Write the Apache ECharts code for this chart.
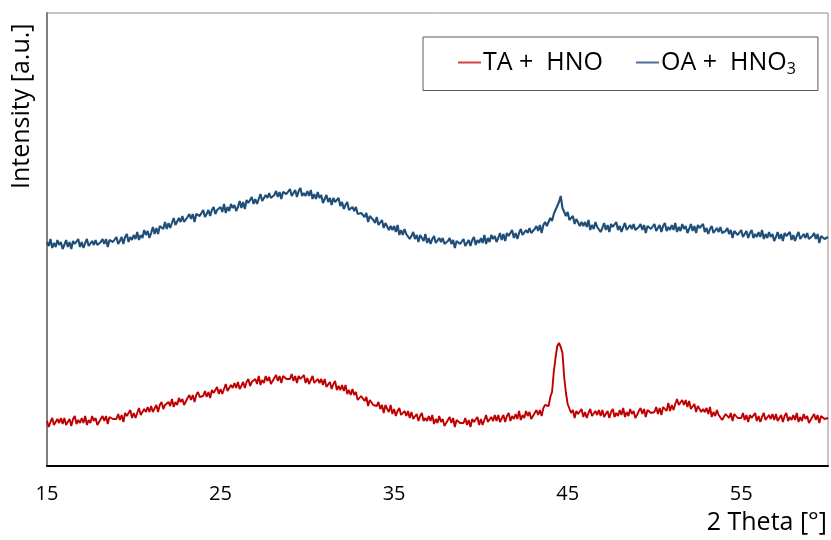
<!DOCTYPE html>
<html>
<head>
<meta charset="utf-8">
<script src="https://cdn.jsdelivr.net/npm/echarts@6/dist/echarts.min.js"></script>
<style>
  html, body { margin: 0; padding: 0; background: #ffffff; }
  #chart { width: 831px; height: 540px; }
</style>
</head>
<body>
<div id="chart"></div>
<script>
// XRD patterns, 2θ from 15° to 60° in 0.1° steps (intensity in arbitrary units)
const thetaStart = 15;
const thetaStep = 0.1;

const seriesNames = ['TA +  HNO', 'OA +  HNO3'];
const xTickLabels = ['15', '25', '35', '45', '55'];

// TA + HNO (red)
const taHno = [
  45,39,44,48,41,40,47,43,48,42,   // 15
  48,41,43,47,40,47,50,42,46,43,   // 16
  48,43,50,41,46,43,50,45,48,41,   // 17
  43,47,50,45,50,42,49,51,47,45,   // 18
  47,52,46,51,44,53,50,48,56,48,   // 19
  53,48,53,58,51,51,57,54,59,54,   // 20
  60,54,56,61,54,61,64,57,61,59,   // 21
  64,60,67,59,64,61,68,64,67,61,   // 22
  63,68,71,66,71,64,71,74,69,68,   // 23
  70,75,69,74,68,76,73,72,79,72,   // 24
  77,72,77,82,75,75,81,78,83,78,   // 25
  84,77,80,84,78,84,87,80,84,82,   // 26
  87,82,90,81,86,83,90,85,89,82,   // 27
  84,88,91,85,90,83,90,92,87,85,   // 28
  87,92,85,90,83,90,87,85,91,83,   // 29
  88,82,86,90,83,81,87,83,87,81,   // 30
  87,79,81,84,77,82,85,76,80,76,   // 31
  81,75,81,72,76,71,77,71,74,66,   // 32
  67,70,72,65,69,60,66,67,61,59,   // 33
  60,64,57,61,53,61,57,54,61,52,   // 34
  57,50,55,58,51,49,55,50,55,48,   // 35
  54,47,48,52,45,50,53,45,48,45,   // 36
  50,45,51,42,47,43,50,44,47,40,   // 37
  42,46,49,43,48,39,46,48,43,41,   // 38
  43,48,41,46,39,47,44,42,49,41,   // 39
  47,41,46,51,44,43,49,45,51,45,   // 40
  51,44,46,51,44,50,53,45,50,47,   // 41
  52,47,55,46,51,48,55,50,54,47,   // 42
  49,53,56,51,56,50,58,61,59,60,   // 43
  69,74,94,108,120,123,119,113,89,73, // 44
  62,62,53,56,48,55,52,50,57,49,   // 45
  54,48,53,57,50,49,55,51,56,50,   // 46
  56,49,51,55,48,54,57,49,53,50,   // 47
  56,51,58,49,54,50,57,52,55,48,   // 48
  51,55,58,52,57,49,56,58,53,51,   // 49
  54,59,52,58,51,59,57,55,63,55,   // 50
  61,56,62,67,61,60,66,61,66,59,   // 51
  65,57,59,62,54,60,62,54,57,54,   // 52
  58,52,59,49,54,50,56,51,53,46,   // 53
  48,52,54,48,53,45,52,53,48,46,   // 54
  48,53,46,51,44,51,48,46,53,45,   // 55
  50,44,49,53,46,45,51,47,52,46,   // 56
  52,45,47,51,44,50,53,45,49,46,   // 57
  51,46,53,44,49,45,52,47,50,43,   // 58
  45,49,52,46,51,43,50,52,47,45,   // 59
  48                               // 60
];

// OA + HNO3 (blue)
const oaHno3 = [
  224,220,227,218,223,219,226,221,224,217, // 15
  221,226,219,224,217,225,222,220,227,219, // 16
  224,218,223,227,220,219,225,221,226,221, // 17
  220,224,227,222,227,219,226,228,224,222, // 18
  229,222,225,229,222,229,232,224,229,226, // 19
  231,227,234,226,231,228,236,231,235,228, // 20
  233,239,232,238,232,240,238,237,244,237, // 21
  243,238,243,248,241,241,248,244,250,244, // 22
  244,249,252,247,252,244,252,254,250,248, // 23
  256,249,252,256,250,256,259,252,256,254, // 24
  259,254,262,253,259,255,262,258,261,255, // 25
  259,265,258,264,257,266,263,262,269,262, // 26
  267,262,267,272,265,265,271,268,273,268, // 27
  267,271,275,269,274,267,274,276,272,270, // 28
  277,270,272,276,269,275,278,270,273,270, // 29
  275,270,276,267,272,267,274,268,271,263, // 30
  267,271,264,268,261,268,264,262,268,260, // 31
  264,257,261,264,256,254,259,255,259,252, // 32
  250,253,255,249,253,244,250,251,246,243, // 33
  249,241,242,246,238,243,245,236,240,236, // 34
  240,234,241,231,236,231,237,232,234,227, // 35
  230,234,227,231,224,231,228,225,232,223, // 36
  228,222,227,230,223,222,228,224,228,222, // 37
  221,225,228,222,226,218,225,227,222,220, // 38
  227,220,222,226,220,226,229,221,226,223, // 39
  228,223,231,222,228,224,231,227,230,224, // 40
  228,233,226,232,225,233,230,228,236,228, // 41
  233,227,233,237,231,230,236,233,238,233, // 42
  232,237,240,235,241,233,241,244,240,240, // 43
  248,245,252,252,260,264,270,258,258,250, // 44
  254,246,247,250,242,247,249,240,244,240, // 45
  244,239,246,236,241,237,244,239,241,234, // 46
  238,243,236,241,234,242,239,237,244,236, // 47
  240,234,239,243,236,235,241,237,242,236, // 48
  235,239,242,236,241,233,240,242,237,235, // 49
  242,235,237,241,234,240,243,235,239,236, // 50
  241,236,243,234,239,235,242,237,240,233, // 51
  237,242,235,240,233,241,238,236,242,234, // 52
  238,232,237,240,233,232,238,234,239,233, // 53
  231,235,238,232,236,228,235,237,231,229, // 54
  236,229,231,235,228,233,236,228,232,229, // 55
  234,229,236,227,232,228,234,229,232,225, // 56
  229,234,227,232,225,233,230,228,234,226, // 57
  231,225,230,234,227,226,232,228,233,227, // 58
  226,230,233,227,232,223,230,232,227,225, // 59
  229                                      // 60
];

const toPairs = (vals) => vals.map((v, i) => [+(thetaStart + i * thetaStep).toFixed(1), v]);

const FONT = '"Open Sans", Lato, sans-serif';
const chart = echarts.init(document.getElementById('chart'), null, { renderer: 'canvas' });

chart.setOption({
  animation: false,
  backgroundColor: '#ffffff',
  grid: {
    left: 47, top: 13, right: 1, bottom: 74,
    show: true, borderColor: '#8c8c8c', borderWidth: 1, backgroundColor: 'transparent'
  },
  xAxis: {
    type: 'value',
    min: 15, max: 60, interval: 5,
    axisLine: { show: true, onZero: false, lineStyle: { color: '#000000', width: 2 } },
    axisTick: { show: false },
    splitLine: { show: false },
    axisLabel: {
      margin: 18,
      color: '#000000',
      fontFamily: FONT,
      fontSize: 20,
      formatter: (v) => xTickLabels.includes(String(v)) ? String(v) : ''
    }
  },
  yAxis: {
    type: 'value',
    min: 0, max: 453,
    axisLine: { show: true, lineStyle: { color: '#7f7f7f', width: 2 } },
    axisTick: { show: false },
    axisLabel: { show: false },
    splitLine: { show: false }
  },
  legend: {
    left: 423, top: 37,
    padding: [13, 22, 13, 35],
    borderColor: '#595959', borderWidth: 1,
    backgroundColor: '#ffffff',
    itemWidth: 23, itemHeight: 2,
    itemGap: 33,
    icon: 'rect',
    textStyle: {
      fontFamily: FONT, fontSize: 25, color: '#000000', padding: [0, 0, 0, -3],
      rich: {
        sub: { fontFamily: FONT, fontSize: 16, color: '#000000', verticalAlign: 'bottom', padding: [14, 0, 0, 0] }
      }
    },
    formatter: (name) => name === 'OA +  HNO3' ? 'OA +  HNO{sub|3}' : name,
    data: seriesNames
  },
  series: [
    {
      name: seriesNames[0], type: 'line', data: toPairs(taHno),
      showSymbol: false, symbol: 'none',
      lineStyle: { color: '#c00000', width: 1.9 }, itemStyle: { color: '#d04040' },
      z: 3
    },
    {
      name: seriesNames[1], type: 'line', data: toPairs(oaHno3),
      showSymbol: false, symbol: 'none',
      lineStyle: { color: '#1f4e79', width: 2.1 }, itemStyle: { color: '#4a6f96' },
      z: 3
    }
  ],
  graphic: [
    {
      type: 'text', right: 4, top: 510,
      style: { text: '2 Theta [°]', fontFamily: FONT, fontSize: 25, fill: '#000000' }
    },
    {
      type: 'text', x: 9, y: 189, rotation: Math.PI / 2,
      style: { text: 'Intensity [a.u.]', fontFamily: FONT, fontSize: 25, fill: '#000000', align: 'left', verticalAlign: 'top' }
    }
  ]
});
</script>
</body>
</html>
